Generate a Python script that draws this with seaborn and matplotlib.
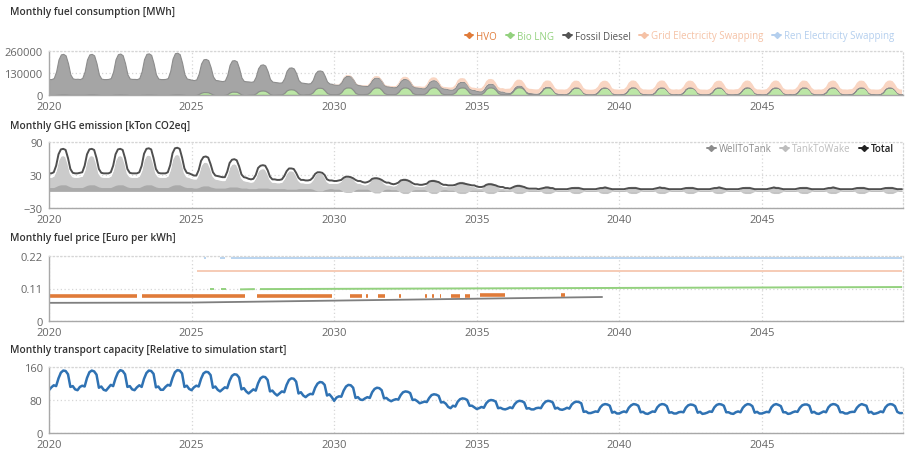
import numpy as np
import pandas as pd
import seaborn as sns
import matplotlib.pyplot as plt
from matplotlib.lines import Line2D

# ---- monthly data, Jan 2020 .. Dec 2049 (one row per year) ----
# fuel consumption, thousand MWh
hvo_k = [
    0, 0, 0, 1, 2, 3, 3, 3, 2, 1, 1, 1,
    1, 1, 1, 1, 2, 3, 3, 3, 2, 1, 0, 0,
    0, 0, 0, 1, 2, 2, 3, 2, 2, 1, 0, 0,
    0, 0, 0, 1, 1, 2, 2, 2, 1, 1, 0, 0,
    0, 0, 0, 1, 2, 3, 3, 3, 2, 1, 0, 0,
    0, 0, 0, 1, 2, 2, 2, 2, 1, 0, 0, 0,
    0, 0, 0, 0, 1, 2, 2, 2, 1, 0, 0, 0,
    0, 0, 0, 0, 1, 1, 2, 1, 1, 0, 0, 0,
    0, 0, 0, 0, 1, 1, 1, 1, 1, 0, 0, 0,
    0, 0, 0, 0, 0, 1, 1, 1, 0, 0, 0, 0,
] + [0] * 240

bio_lng_k = [0] * 60 + [
    0, 0, 1, 5, 12, 15, 15, 14, 9, 3, 0, 0,
    0, 0, 1, 5, 14, 18, 18, 17, 11, 3, 0, 0,
    2, 2, 3, 9, 20, 25, 25, 24, 16, 6, 2, 2,
    3, 3, 4, 12, 26, 32, 33, 31, 22, 8, 4, 3,
    5, 5, 7, 16, 34, 41, 42, 40, 28, 12, 6, 5,
    5, 5, 7, 17, 36, 44, 45, 43, 30, 12, 6, 5,
    5, 6, 7, 17, 35, 44, 45, 43, 30, 12, 6, 5,
    5, 5, 7, 18, 36, 44, 45, 42, 31, 12, 6, 5,
    6, 5, 7, 17, 36, 44, 46, 43, 30, 11, 6, 5,
    5, 5, 8, 17, 37, 44, 45, 43, 30, 12, 6, 5,
    5, 5, 7, 17, 36, 44, 45, 42, 30, 12, 6, 6,
    5, 6, 7, 18, 36, 45, 46, 43, 31, 12, 6, 5,
    5, 5, 7, 17, 36, 44, 45, 43, 30, 12, 6, 5,
    6, 5, 7, 17, 35, 44, 45, 43, 30, 12, 6, 5,
    5, 5, 8, 18, 36, 44, 45, 42, 31, 11, 6, 5,
    5, 6, 7, 17, 36, 45, 46, 43, 30, 12, 6, 6,
    5, 5, 7, 17, 37, 44, 45, 43, 30, 12, 6, 5,
    6, 5, 7, 18, 36, 44, 45, 42, 31, 12, 6, 5,
    5, 5, 8, 17, 36, 44, 45, 43, 30, 11, 6, 5,
    5, 6, 7, 17, 35, 44, 46, 43, 30, 12, 6, 6,
    5, 5, 7, 18, 36, 44, 45, 42, 31, 12, 6, 5,
    6, 5, 7, 17, 36, 45, 45, 43, 30, 12, 6, 5,
    5, 5, 8, 17, 37, 44, 46, 43, 30, 11, 6, 5,
    5, 6, 7, 18, 36, 44, 45, 43, 31, 12, 6, 6,
    5, 5, 7, 17, 36, 44, 45, 42, 30, 12, 6, 5,
]

fossil_diesel_k = [
    94, 94, 100, 138, 208, 237, 240, 231, 185, 120, 97, 94,
    95, 93, 100, 138, 208, 237, 240, 231, 185, 120, 97, 94,
    94, 95, 100, 138, 209, 239, 242, 233, 186, 121, 97, 95,
    95, 94, 100, 139, 211, 241, 244, 235, 187, 121, 97, 94,
    94, 95, 100, 140, 213, 244, 247, 238, 189, 122, 97, 94,
    90, 88, 91, 120, 172, 194, 196, 190, 155, 107, 89, 87,
    84, 82, 85, 113, 163, 184, 186, 180, 146, 100, 83, 81,
    78, 76, 78, 99, 137, 152, 154, 149, 124, 89, 77, 75,
    72, 70, 71, 87, 116, 128, 129, 125, 106, 80, 70, 69,
    65, 63, 63, 73, 93, 101, 102, 100, 86, 68, 62, 61,
    57, 55, 54, 58, 65, 68, 68, 67, 62, 56, 53, 53,
    50, 48, 46, 50, 55, 58, 58, 57, 53, 48, 46, 46,
    43, 41, 40, 43, 48, 50, 50, 49, 46, 42, 40, 40,
    37, 35, 33, 36, 40, 42, 42, 41, 39, 35, 33, 33,
    29, 27, 25, 27, 31, 33, 33, 33, 30, 26, 25, 25,
    20, 17, 15, 17, 20, 22, 22, 22, 19, 16, 15, 15,
    10, 8, 6, 7, 9, 10, 10, 10, 8, 7, 6, 6,
    4, 3, 2, 3, 4, 4, 4, 4, 3, 2, 2, 2,
] + [0] * 144

grid_swap_k = [0] * 120 + [
    2, 2, 2, 3, 4, 5, 5, 5, 4, 3, 2, 2,
    3, 4, 4, 6, 8, 9, 9, 9, 7, 5, 4, 4,
    5, 6, 6, 8, 11, 13, 13, 13, 10, 7, 6, 6,
    8, 9, 9, 11, 15, 17, 17, 17, 14, 10, 9, 9,
    11, 12, 13, 16, 20, 22, 22, 21, 19, 15, 13, 13,
    15, 17, 19, 22, 26, 28, 28, 27, 25, 21, 19, 20,
    21, 23, 25, 28, 33, 35, 35, 34, 31, 27, 25, 25,
    25, 25, 25, 29, 34, 37, 37, 36, 32, 27, 25, 26,
    27, 27, 28, 31, 37, 40, 40, 39, 35, 29, 27, 27,
    26, 27, 28, 31, 37, 39, 40, 39, 35, 29, 28, 28,
    27, 28, 28, 31, 37, 40, 40, 39, 35, 30, 27, 27,
    27, 27, 28, 31, 36, 40, 41, 40, 35, 29, 27, 27,
    28, 27, 28, 31, 37, 40, 40, 39, 34, 29, 27, 27,
    27, 26, 28, 32, 37, 39, 40, 39, 35, 30, 27, 28,
    27, 28, 28, 31, 37, 40, 40, 39, 35, 29, 27, 27,
    26, 27, 28, 31, 36, 40, 41, 40, 34, 29, 27, 27,
    27, 27, 28, 32, 37, 40, 40, 39, 35, 30, 26, 27,
    28, 27, 28, 31, 37, 39, 40, 39, 35, 29, 27, 28,
    27, 28, 28, 31, 36, 40, 40, 39, 34, 29, 27, 27,
    27, 27, 28, 32, 37, 40, 41, 40, 35, 30, 27, 27,
]

ren_swap_k = [0] * 360

# GHG emission, kTon CO2eq
tank_to_wake = [
    26, 26, 28, 38, 57, 65, 66, 64, 51, 33, 27, 26,
    26, 27, 28, 38, 57, 65, 66, 64, 51, 33, 27, 26,
    26, 26, 28, 38, 57, 65, 66, 64, 51, 33, 27, 26,
    26, 26, 28, 38, 58, 66, 67, 65, 51, 33, 27, 26,
    26, 26, 28, 39, 59, 67, 68, 66, 52, 34, 27, 26,
    24, 23, 23, 32, 47, 53, 54, 52, 42, 28, 23, 22,
    21, 20, 20, 29, 44, 50, 51, 49, 39, 25, 20, 19,
    18, 17, 18, 25, 37, 41, 42, 41, 33, 22, 17, 17,
    16, 16, 17, 23, 33, 38, 38, 37, 30, 20, 16, 16,
    15, 15, 16, 21, 30, 34, 34, 33, 27, 18, 15, 15,
    15, 15, 16, 19, 26, 29, 29, 28, 24, 18, 15, 15,
    13, 12, 13, 17, 24, 27, 27, 26, 21, 15, 12, 12,
    11, 10, 11, 15, 22, 25, 25, 24, 19, 13, 10, 10,
    9, 9, 10, 13, 20, 23, 23, 22, 18, 12, 9, 9,
    9, 9, 9, 12, 17, 19, 19, 18, 15, 11, 9, 9,
    7, 6, 6, 9, 15, 17, 17, 16, 13, 8, 6, 6,
    5, 5, 4, 7, 12, 14, 14, 13, 10, 6, 4, 4,
    4, 4, 3, 5, 9, 11, 11, 10, 8, 4, 3, 3,
    3, 3, 3, 5, 9, 10, 10, 10, 7, 4, 3, 3,
    3, 3, 3, 5, 9, 10, 11, 10, 7, 4, 3, 3,
    3, 3, 3, 5, 9, 10, 10, 10, 7, 4, 3, 3,
    3, 3, 3, 5, 9, 11, 10, 10, 7, 4, 3, 3,
    3, 3, 3, 5, 9, 10, 10, 10, 7, 4, 3, 3,
    3, 3, 3, 5, 9, 10, 11, 10, 7, 4, 3, 3,
    3, 3, 3, 5, 9, 10, 10, 10, 7, 4, 3, 3,
    3, 3, 3, 5, 9, 11, 10, 10, 7, 4, 3, 3,
    3, 3, 3, 5, 9, 10, 10, 10, 7, 4, 3, 3,
    3, 3, 3, 5, 9, 10, 11, 10, 7, 4, 3, 3,
    3, 3, 3, 5, 9, 10, 10, 10, 7, 4, 3, 3,
    3, 3, 3, 5, 9, 10, 10, 10, 7, 4, 3, 3,
]

well_to_tank = [
    7, 7, 7, 9, 11, 12, 12, 12, 10, 8, 7, 7,
    7, 7, 7, 9, 11, 12, 12, 12, 10, 8, 7, 7,
    7, 7, 7, 9, 11, 12, 12, 12, 10, 8, 7, 7,
    7, 7, 7, 9, 11, 12, 12, 12, 10, 8, 7, 7,
    7, 7, 7, 9, 11, 12, 12, 12, 10, 8, 7, 7,
    7, 6, 6, 7, 9, 10, 10, 10, 8, 7, 6, 6,
    6, 6, 6, 7, 8, 8, 8, 8, 7, 6, 6, 6,
    5, 5, 5, 5, 6, 6, 6, 6, 6, 5, 5, 5,
    5, 5, 5, 5, 4, 4, 4, 4, 4, 5, 5, 5,
    5, 5, 5, 4, 2, 1, 1, 1, 3, 4, 5, 5,
    4, 4, 4, 2, -1, -2, -2, -2, 0, 3, 4, 4,
    4, 4, 4, 2, -1, -3, -3, -3, 0, 3, 4, 4,
    3, 3, 3, 1, -2, -4, -4, -4, -1, 2, 3, 3,
    3, 3, 3, 1, -2, -4, -4, -4, -1, 2, 3, 3,
    2, 2, 2, 0, -3, -4, -4, -4, -2, 1, 2, 2,
    2, 2, 2, 0, -3, -4, -4, -4, -2, 1, 2, 2,
    1, 1, 1, 0, -3, -4, -4, -4, -2, 0, 1, 1,
    1, 1, 1, 0, -3, -4, -4, -4, -2, 0, 1, 1,
    1, 1, 1, 0, -3, -4, -4, -4, -2, 0, 1, 1,
    1, 1, 1, 0, -3, -4, -4, -4, -2, 0, 1, 1,
    1, 1, 1, 0, -3, -4, -4, -4, -2, 0, 1, 1,
    1, 1, 1, 0, -3, -4, -4, -4, -2, 0, 1, 1,
    1, 1, 1, 0, -3, -4, -4, -4, -2, 0, 1, 1,
    1, 1, 1, 0, -3, -4, -4, -4, -2, 0, 1, 1,
    1, 1, 1, 0, -3, -4, -4, -4, -2, 0, 1, 1,
    1, 1, 1, 0, -3, -4, -4, -4, -2, 0, 1, 1,
    1, 1, 1, 0, -3, -4, -4, -4, -2, 0, 1, 1,
    1, 1, 1, 0, -3, -4, -4, -4, -2, 0, 1, 1,
    1, 1, 1, 0, -3, -4, -4, -4, -2, 0, 1, 1,
    1, 1, 1, 0, -3, -4, -4, -4, -2, 0, 1, 1,
]

# transport capacity, % of simulation start
capacity = [
    104, 111, 116, 114, 133, 147, 152, 151, 143, 112, 114, 106,
    104, 112, 115, 113, 134, 148, 152, 150, 142, 110, 113, 105,
    103, 110, 117, 114, 133, 147, 153, 151, 143, 112, 114, 106,
    104, 111, 116, 112, 132, 146, 152, 151, 144, 111, 113, 105,
    105, 112, 117, 115, 134, 148, 153, 152, 145, 112, 115, 107,
    104, 111, 115, 113, 132, 145, 149, 148, 141, 110, 113, 105,
    101, 106, 111, 109, 127, 139, 143, 142, 135, 106, 109, 101,
    96, 101, 106, 103, 121, 133, 137, 136, 129, 101, 103, 96,
    91, 96, 101, 99, 117, 129, 133, 132, 125, 96, 99, 91,
    87, 92, 95, 94, 110, 120, 124, 123, 117, 91, 94, 87,
    78, 86, 89, 88, 103, 113, 117, 116, 110, 85, 87, 81,
    80, 84, 87, 85, 99, 107, 110, 109, 104, 84, 85, 80,
    77, 80, 82, 81, 92, 99, 101, 100, 97, 80, 81, 77,
    72, 74, 76, 75, 85, 92, 94, 93, 90, 74, 75, 71,
    63, 60, 66, 64, 76, 82, 84, 83, 80, 66, 66, 62,
    58, 60, 63, 61, 72, 78, 80, 79, 76, 60, 61, 58,
    57, 59, 62, 60, 70, 76, 78, 77, 74, 59, 60, 57,
    57, 60, 61, 60, 70, 76, 78, 77, 74, 59, 61, 57,
    56, 58, 61, 59, 69, 74, 76, 75, 72, 51, 52, 48,
    48, 50, 52, 51, 62, 68, 70, 69, 66, 49, 51, 47,
    47, 50, 52, 50, 61, 67, 70, 69, 66, 50, 51, 47,
    46, 49, 52, 51, 62, 68, 70, 69, 65, 49, 50, 47,
    47, 50, 51, 50, 61, 67, 69, 68, 65, 49, 51, 46,
    47, 49, 52, 51, 62, 68, 70, 69, 66, 50, 50, 47,
    46, 50, 52, 50, 61, 67, 70, 69, 65, 49, 51, 47,
    47, 49, 51, 50, 62, 68, 70, 68, 65, 50, 50, 46,
    47, 50, 52, 51, 61, 67, 69, 69, 66, 49, 51, 47,
    46, 49, 52, 50, 62, 68, 70, 69, 65, 50, 50, 47,
    47, 50, 51, 51, 61, 67, 70, 68, 66, 49, 51, 46,
    47, 49, 52, 50, 62, 68, 70, 69, 65, 51, 48, 48,
]

# fuel prices, Euro per kWh: segments (start year, end year, start price, end price)
hvo_price = [
    (2020.00, 2023.08, 0.085, 0.085), (2023.26, 2026.87, 0.085, 0.085),
    (2027.30, 2029.93, 0.085, 0.085), (2030.55, 2030.96, 0.085, 0.085),
    (2031.10, 2031.20, 0.085, 0.085), (2031.55, 2031.80, 0.085, 0.085),
    (2032.28, 2032.34, 0.085, 0.085), (2033.20, 2033.26, 0.085, 0.085),
    (2033.44, 2033.50, 0.085, 0.085), (2033.70, 2033.76, 0.085, 0.085),
    (2034.10, 2034.40, 0.086, 0.086), (2034.58, 2034.78, 0.086, 0.086),
    (2035.10, 2035.98, 0.087, 0.087), (2037.95, 2038.09, 0.087, 0.087),
]
bio_lng_price = [
    (2025.63, 2025.80, 0.107, 0.107), (2026.04, 2026.22, 0.107, 0.107),
    (2026.70, 2027.22, 0.107, 0.108), (2027.40, 2049.92, 0.108, 0.115),
]
fossil_price = [(2020.00, 2025.00, 0.061, 0.062), (2025.00, 2039.42, 0.062, 0.081)]
grid_price = [(2025.20, 2049.92, 0.169, 0.169)]
ren_price = [
    (2025.44, 2025.50, 0.215, 0.215), (2025.98, 2026.16, 0.215, 0.215),
    (2026.40, 2049.92, 0.215, 0.215),
]

titles = ['Monthly fuel consumption [MWh]', 'Monthly GHG emission [kTon CO2eq]',
          'Monthly fuel price [Euro per kWh]',
          'Monthly transport capacity [Relative to simulation start]']
year_ticks = [2020, 2025, 2030, 2035, 2040, 2045]
fuel_ticks = [0, 130000, 260000]
ghg_ticks = [-30, 30, 90]
price_ticks = [0, 0.11, 0.22]
price_tick_labels = ['0', '0.11', '0.22']
cap_ticks = [0, 80, 160]

fuels = ['HVO', 'Bio LNG', 'Fossil Diesel', 'Grid Electricity Swapping', 'Ren Electricity Swapping']
fill_cols = ['#e8915a', '#bce6a6', '#a5a5a5', '#f9d5c2', '#cfe0f4']
edge_cols = ['#e07b39', '#9dd486', '#8c8c8c', 'none', 'none']
text_cols = ['#e07b39', '#93d17e', '#555555', '#f5c2a6', '#b4cfee']
ghg_names = ['WellToTank', 'TankToWake', 'Total']
ghg_cols = ['#8c8c8c', '#bdbdbd', '#222222']

# ---- plot ----
sns.set_style('white')
plt.rcParams['font.family'] = ['Open Sans', 'DejaVu Sans']

months = pd.date_range('2020-01-01', periods=360, freq='MS')
t = np.asarray(months.year + (months.month - 1) / 12, dtype=float)

W, H = 911, 452
fig = plt.figure(figsize=(W / 100, H / 100), dpi=100)


def add_panel(top_px, bottom_px):
    return fig.add_axes([49 / W, 1 - bottom_px / H, (903 - 49) / W, (bottom_px - top_px) / H])


def style(ax, ylim, yticks, ylabels=None):
    ax.set_xlim(2020, 2049.95)
    ax.set_ylim(*ylim)
    ax.set_xticks(year_ticks)
    ax.set_yticks(yticks)
    if ylabels is not None:
        ax.set_yticklabels(ylabels)
    ax.grid(True, color='#d6d6d6', linestyle=(0, (1, 2)), linewidth=0.9)
    for s in ['left', 'bottom']:
        ax.spines[s].set_color('#a8a8a8')
        ax.spines[s].set_linewidth(1.0)
    for s in ['top', 'right']:
        ax.spines[s].set_color('#d6d6d6')
        ax.spines[s].set_linestyle((0, (1, 2)))
        ax.spines[s].set_linewidth(0.9)
    ax.tick_params(axis='both', colors='#a8a8a8', labelcolor='#666666', labelsize=8,
                   length=3, width=1, pad=1.5)
    ax.set_xlabel('')
    ax.set_ylabel('')
    ax.set_axisbelow(True)


def legend(names, cols, y_px):
    hs = [Line2D([0], [0], color=c, marker='D', markersize=3, lw=1.4) for c in cols]
    return fig.legend(hs, names, loc='center right', bbox_to_anchor=(899 / W, 1 - y_px / H),
                      ncol=len(names), frameon=False, fontsize=7, labelcolor=cols,
                      handlelength=0.9, handletextpad=0.3, columnspacing=0.9, borderpad=0)


# panel 1: stacked fuel consumption
ax1 = add_panel(52, 96)
stack = [np.array(v, dtype=float) * 1000 for v in [hvo_k, bio_lng_k, fossil_diesel_k, grid_swap_k, ren_swap_k]]
polys = ax1.stackplot(t, *stack, colors=fill_cols, linewidth=0.8)
for p, ec in zip(polys, edge_cols):
    p.set_edgecolor(ec)
style(ax1, (0, 260000), fuel_ticks)
legend(fuels, text_cols, 37)

# panel 2: GHG emission
ax2 = add_panel(143.3, 208.7)
ttw = np.array(tank_to_wake, dtype=float)
wtt = np.array(well_to_tank, dtype=float)
ax2.fill_between(t, 0, ttw, color='#cbcbcb', lw=0)
sns.lineplot(x=t, y=ttw, ax=ax2, color='white', lw=1.0)
ax2.fill_between(t, 0, wtt, color='#8a8a8a', alpha=0.5, lw=0)
sns.lineplot(x=t, y=ttw + wtt, ax=ax2, color='#4f4f4f', lw=1.4)
style(ax2, (-30, 90), ghg_ticks)
leg2 = legend(ghg_names, ghg_cols, 150)
leg2.get_texts()[2].set_fontweight('semibold')

# panel 3: fuel prices
ax3 = add_panel(257.3, 321.7)
price_series = [(ren_price, '#b9d4f0', 1.4), (grid_price, '#f6cbb5', 1.4),
                (bio_lng_price, '#93d17e', 1.4), (fossil_price, '#7f7f7f', 1.3),
                (hvo_price, '#e07b39', 2.6)]
for segs, col, lw in price_series:
    for x0, x1, y0, y1 in segs:
        sns.lineplot(x=[x0, x1], y=[y0, y1], ax=ax3, color=col, lw=lw, solid_capstyle='butt')
style(ax3, (0, 0.22), price_ticks, price_tick_labels)

# panel 4: transport capacity
ax4 = add_panel(368.3, 433.7)
sns.lineplot(x=t, y=capacity, ax=ax4, color='#2f72b3', lw=1.8)
style(ax4, (0, 160), cap_ticks)

for title, y in zip(titles, [13, 126, 239, 351]):
    fig.text(10 / W, 1 - y / H, title, fontsize=7.3, fontweight='semibold', color='#333333',
             va='center', ha='left')

fig.savefig('out.png', dpi=100)
